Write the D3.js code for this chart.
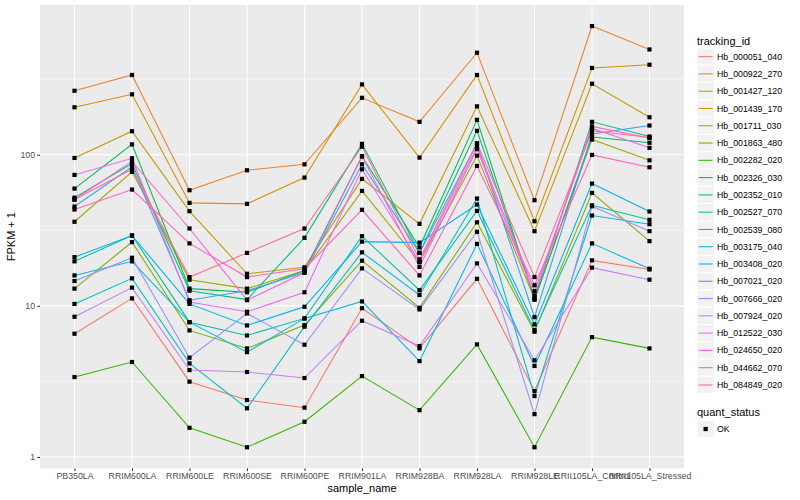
<!DOCTYPE html>
<html>
<head>
<meta charset="utf-8">
<style>
  body { margin: 0; background: #fff; }
  svg { display: block; font-family: "Liberation Sans", Arial, Helvetica, sans-serif; }
</style>
</head>
<body>
<svg width="800" height="500"></svg>
<script src="https://d3js.org/d3.v7.min.js"></script>
<script>
// samples on the x axis
const samples = ["PB350LA", "RRIM600LA", "RRIM600LE", "RRIM600SE", "RRIM600PE", "RRIM901LA",
  "RRIM928BA", "RRIM928LA", "RRIM928LE", "RRII105LA_Control", "RRII105LA_Stressed"];

const trackingIds = ["Hb_000051_040", "Hb_000922_270", "Hb_001427_120", "Hb_001439_170", "Hb_001711_030",
  "Hb_001863_480", "Hb_002282_020", "Hb_002326_030", "Hb_002352_010", "Hb_002527_070",
  "Hb_002539_080", "Hb_003175_040", "Hb_003408_020", "Hb_007021_020", "Hb_007666_020",
  "Hb_007924_020", "Hb_012522_030", "Hb_024650_020", "Hb_044662_070", "Hb_084849_020"];

// FPKM + 1, one value per sample
const hb_000051_040 = [6.54, 11.2, 3.15, 2.38, 2.12, 9.65, 5.23, 15.1, 2.73, 20.0, 17.4];
const hb_000922_270 = [265, 337, 58.2, 78.9, 86.4, 238, 165, 473, 50.0, 710, 497];
const hb_001427_120 = [206, 251, 48.0, 47.3, 70.6, 292, 95.7, 337, 36.3, 375, 394];
const hb_001439_170 = [95.2, 143, 42.3, 16.3, 18.0, 69.2, 34.9, 209, 31.2, 295, 177];
const hb_001711_030 = [36.0, 77.0, 14.9, 13.0, 17.1, 57.6, 19.5, 98.6, 11.0, 126, 91.8];
const hb_001863_480 = [13.0, 26.4, 6.88, 5.23, 7.46, 19.9, 9.71, 35.7, 6.74, 55.9, 26.8];
const hb_002282_020 = [3.38, 4.25, 1.56, 1.16, 1.71, 3.43, 2.04, 5.56, 1.16, 6.21, 5.23];
const hb_002326_030 = [59.7, 117, 13.0, 12.3, 17.1, 97.6, 24.4, 170, 11.0, 131, 120];
const hb_002352_010 = [52.0, 87.3, 12.6, 11.0, 28.2, 118, 22.4, 144, 11.3, 165, 132];
const hb_002527_070 = [19.7, 29.2, 7.80, 6.37, 8.26, 28.9, 12.7, 42.5, 6.91, 46.3, 37.1];
const hb_002539_080 = [10.3, 15.2, 4.16, 2.10, 7.28, 22.6, 11.8, 51.3, 2.53, 39.6, 34.7];
const hb_003175_040 = [15.9, 19.7, 7.80, 4.94, 8.26, 10.7, 4.31, 25.7, 4.00, 25.9, 17.6];
const hb_003408_020 = [21.0, 29.2, 10.3, 7.42, 9.86, 26.6, 26.2, 46.8, 7.54, 64.4, 42.1];
const hb_007021_020 = [45.4, 83.1, 10.9, 12.6, 16.6, 86.4, 22.4, 119, 8.42, 137, 156];
const hb_007666_020 = [14.6, 20.8, 4.54, 8.91, 5.53, 17.7, 9.47, 30.9, 1.92, 45.6, 31.2];
const hb_007924_020 = [8.47, 13.2, 3.76, 3.65, 3.33, 7.97, 5.42, 19.1, 4.36, 17.9, 14.9];
const hb_012522_030 = [73.5, 94.7, 10.6, 9.14, 12.3, 80.1, 19.5, 113, 12.5, 149, 111];
const hb_024650_020 = [50.5, 90.4, 32.5, 10.9, 16.6, 97.6, 18.1, 109, 11.7, 154, 129];
const hb_044662_070 = [43.4, 58.8, 25.9, 15.5, 17.6, 43.2, 15.9, 84.3, 13.7, 99.7, 82.6];
const hb_084849_020 = [50.5, 80.1, 15.5, 22.4, 32.5, 113, 20.3, 119, 15.5, 144, 130];

const series = [hb_000051_040, hb_000922_270, hb_001427_120, hb_001439_170, hb_001711_030,
  hb_001863_480, hb_002282_020, hb_002326_030, hb_002352_010, hb_002527_070,
  hb_002539_080, hb_003175_040, hb_003408_020, hb_007021_020, hb_007666_020,
  hb_007924_020, hb_012522_030, hb_024650_020, hb_044662_070, hb_084849_020];

const quantStatus = ["OK"];

// ggplot default hue palette for 20 levels
const hue = ["#F8766D", "#EA8331", "#D89000", "#C09B00", "#A3A500", "#7CAE00", "#39B600", "#00BB4E",
  "#00BF7D", "#00C1A3", "#00BFC4", "#00BAE0", "#00B0F6", "#35A2FF", "#9590FF", "#C77CFF",
  "#E76BF3", "#FA62DB", "#FF62BC", "#FF6C91"];

const svg = d3.select("svg");
const panel = {left: 40, right: 684, top: 5, bottom: 468.3};

const color = d3.scaleOrdinal().domain(trackingIds).range(hue);

const x = d3.scalePoint().domain(samples).range([panel.left, panel.right]).padding(0.6);

// log scale with ggplot's 5% expansion
const ext = d3.extent(series.flat());
const lo = Math.log10(ext[0]), hi = Math.log10(ext[1]), pad = (hi - lo) * 0.05;
const y = d3.scaleLog().domain([Math.pow(10, lo - pad), Math.pow(10, hi + pad)])
  .range([panel.bottom, panel.top]);

svg.append("rect")
  .attr("x", panel.left).attr("y", panel.top)
  .attr("width", panel.right - panel.left).attr("height", panel.bottom - panel.top)
  .attr("fill", "#EBEBEB");

const grid = svg.append("g");
grid.selectAll(".minor").data([Math.pow(10, 0.5), Math.pow(10, 1.5), Math.pow(10, 2.5)]).enter()
  .append("line")
  .attr("x1", panel.left).attr("x2", panel.right)
  .attr("y1", d => y(d)).attr("y2", d => y(d))
  .attr("stroke", "#fff").attr("stroke-width", 0.53);
grid.selectAll(".major").data([1, 10, 100]).enter()
  .append("line")
  .attr("x1", panel.left).attr("x2", panel.right)
  .attr("y1", d => y(d)).attr("y2", d => y(d))
  .attr("stroke", "#fff").attr("stroke-width", 1.07);
grid.selectAll(".vx").data(samples).enter()
  .append("line")
  .attr("x1", d => x(d)).attr("x2", d => x(d))
  .attr("y1", panel.top).attr("y2", panel.bottom)
  .attr("stroke", "#fff").attr("stroke-width", 1.07);

// lines
const line = d3.line().x((d, i) => x(samples[i])).y(d => y(d));
svg.append("g").selectAll("path").data(series).enter()
  .append("path")
  .attr("d", line)
  .attr("fill", "none")
  .attr("stroke", (d, i) => color(trackingIds[i]))
  .attr("stroke-width", 1.07);

// points
const pts = [];
series.forEach((s, k) => s.forEach((v, i) => pts.push({sample: samples[i], value: v})));
svg.append("g").selectAll("rect").data(pts).enter()
  .append("rect")
  .attr("x", d => x(d.sample) - 2.1).attr("y", d => y(d.value) - 2.1)
  .attr("width", 4.2).attr("height", 4.2)
  .attr("fill", "#000");

// axes
const yAxis = svg.append("g")
  .attr("transform", "translate(" + panel.left + ",0)")
  .call(d3.axisLeft(y).tickValues([1, 10, 100]).tickFormat(d3.format("d")).tickSize(2.75).tickPadding(2.2));
const xAxis = svg.append("g")
  .attr("transform", "translate(0," + panel.bottom + ")")
  .call(d3.axisBottom(x).tickSize(2.75).tickPadding(2.2));
[yAxis, xAxis].forEach(a => {
  a.select(".domain").remove();
  a.selectAll(".tick line").attr("stroke", "#333333").attr("stroke-width", 1.07);
  a.selectAll(".tick text").attr("fill", "#4D4D4D").style("font-size", "8.8px")
    .style("font-family", "'Liberation Sans', Arial, sans-serif");
});

svg.append("text")
  .attr("x", (panel.left + panel.right) / 2).attr("y", 492)
  .attr("text-anchor", "middle").style("font-size", "11px").text("sample_name");
svg.append("text")
  .attr("transform", "translate(15," + (panel.top + panel.bottom) / 2 + ") rotate(-90)")
  .attr("text-anchor", "middle").style("font-size", "11px").text("FPKM + 1");

// legend: tracking_id
const lg = svg.append("g").attr("transform", "translate(697,0)");
lg.append("text").attr("x", 0).attr("y", 44.5).style("font-size", "11px").text("tracking_id");
const keys = lg.selectAll(".key").data(trackingIds).enter().append("g")
  .attr("transform", (d, i) => "translate(0," + (48 + i * 17.28) + ")");
keys.append("rect").attr("width", 17.28).attr("height", 17.28)
  .attr("fill", "#F2F2F2").attr("stroke", "#fff").attr("stroke-width", 1);
keys.append("line").attr("x1", 1.7).attr("x2", 15.6).attr("y1", 8.64).attr("y2", 8.64)
  .attr("stroke", d => color(d)).attr("stroke-width", 1.07);
keys.append("text").attr("x", 20).attr("y", 8.64).attr("dy", "0.35em")
  .style("font-size", "8.8px").text(d => d);

// legend: quant_status
const lq = svg.append("g").attr("transform", "translate(697,0)");
lq.append("text").attr("x", 0).attr("y", 416).style("font-size", "11px").text("quant_status");
const qk = lq.selectAll(".qk").data(quantStatus).enter().append("g")
  .attr("transform", (d, i) => "translate(0," + (420.4 + i * 17.28) + ")");
qk.append("rect").attr("width", 17.28).attr("height", 17.28)
  .attr("fill", "#F2F2F2").attr("stroke", "#fff").attr("stroke-width", 1);
qk.append("rect").attr("x", 6.54).attr("y", 6.54).attr("width", 4.2).attr("height", 4.2).attr("fill", "#000");
qk.append("text").attr("x", 20).attr("y", 8.64).attr("dy", "0.35em")
  .style("font-size", "8.8px").text(d => d);
</script>
</body>
</html>
